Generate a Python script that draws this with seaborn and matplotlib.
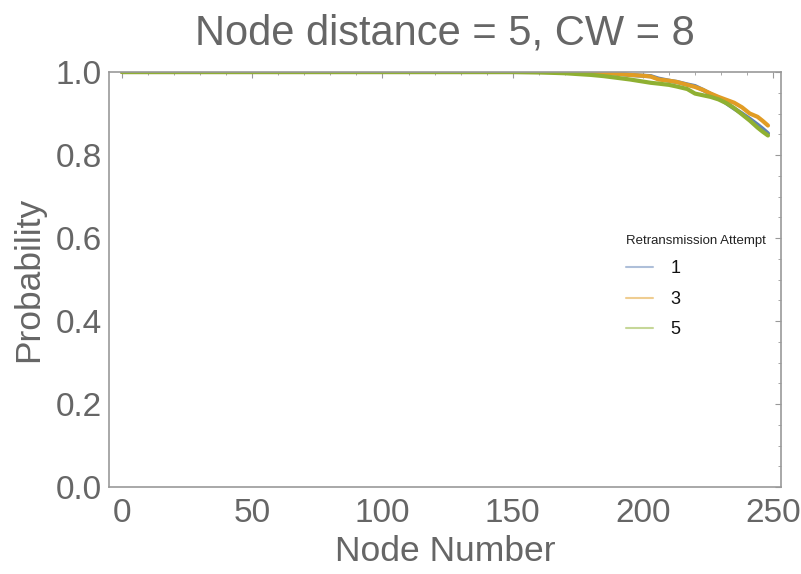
import numpy as np
import pandas as pd
import matplotlib
matplotlib.use("Agg")
import matplotlib.pyplot as plt
from matplotlib.ticker import MultipleLocator
import seaborn as sns

# Success probability per node for each retransmission attempt
node = [0, 100, 150, 160, 170, 175, 180, 185, 190, 195, 200, 203, 206, 210, 213,
        217, 220, 223, 226, 229, 232, 235, 238, 241, 244, 246, 248]
attempt_1 = [1.0, 1.0, 1.0, 1.0, 1.0, 0.999, 0.999, 0.998, 0.996, 0.993, 0.991, 0.990,
             0.984, 0.979, 0.976, 0.970, 0.966, 0.957, 0.947, 0.938, 0.925, 0.912,
             0.900, 0.887, 0.873, 0.863, 0.852]
attempt_3 = [1.0, 1.0, 1.0, 1.0, 1.0, 0.999, 0.999, 0.998, 0.996, 0.993, 0.991, 0.989,
             0.982, 0.979, 0.976, 0.969, 0.964, 0.957, 0.948, 0.940, 0.933, 0.926,
             0.915, 0.900, 0.892, 0.882, 0.871]
attempt_5 = [1.0, 1.0, 1.0, 0.999, 0.997, 0.995, 0.993, 0.990, 0.986, 0.982, 0.977, 0.974,
             0.972, 0.969, 0.965, 0.959, 0.948, 0.944, 0.940, 0.934, 0.925, 0.913,
             0.898, 0.883, 0.866, 0.856, 0.847]
attempt_labels = ["1", "3", "5"]
line_colors = ["#5E81B5", "#E19C24", "#8FB032"]

df = pd.concat([
    pd.DataFrame({"Node Number": node, "Probability": vals, "Attempt": lab})
    for vals, lab in zip([attempt_1, attempt_3, attempt_5], attempt_labels)
])

sns.set_theme(style="white")
plt.rcParams["font.family"] = ["Liberation Sans", "DejaVu Sans"]

text_gray = "#666666"
axis_gray = "#999999"

fig = plt.figure(figsize=(8.01, 5.74), dpi=100)
ax = fig.add_axes([109 / 801, 1 - 487 / 574, (781 - 109) / 801, (487 - 72) / 574])

sns.lineplot(data=df, x="Node Number", y="Probability", hue="Attempt",
             hue_order=attempt_labels, palette=line_colors, linewidth=3,
             ax=ax, legend=True)

ax.set_xlim(-5, 253)
ax.set_ylim(0, 1.0)
ax.xaxis.set_major_locator(MultipleLocator(50))
ax.xaxis.set_minor_locator(MultipleLocator(10))
ax.yaxis.set_major_locator(MultipleLocator(0.2))
ax.yaxis.set_minor_locator(MultipleLocator(0.05))
ax.yaxis.set_major_formatter(matplotlib.ticker.FormatStrFormatter("%.1f"))

for sp in ax.spines.values():
    sp.set_color(axis_gray)
    sp.set_linewidth(1.2)

ax.tick_params(which="both", direction="in", color=axis_gray,
               top=True, right=True, labeltop=False, labelright=False)
ax.tick_params(which="major", length=4, width=0.8)
ax.tick_params(which="minor", length=2.5, width=0.6)
ax.tick_params(axis="x", which="major", labelsize=24, labelcolor=text_gray, pad=8)
ax.tick_params(axis="y", which="major", labelsize=24, labelcolor=text_gray, pad=5)

ax.set_xlabel("Node Number", fontsize=25.5, color=text_gray, labelpad=4)
ax.set_ylabel("Probability", fontsize=25.5, color=text_gray, labelpad=8)
ax.set_title("Node distance = 5, CW = 8", fontsize=30, color=text_gray, pad=20)

leg = ax.legend(title="Retransmission Attempt", loc="upper left",
                bbox_to_anchor=(0.758, 0.625), frameon=False, fontsize=13,
                title_fontsize=9.5, handlelength=1.5, handletextpad=1.0,
                labelspacing=0.75, borderaxespad=0, alignment="left")
leg.get_title().set_color("#222222")
for t in leg.get_texts():
    t.set_color("#111111")
for ln in leg.get_lines():
    ln.set_linewidth(1.5)
    ln.set_alpha(0.5)

fig.savefig("out.png", dpi=100)
